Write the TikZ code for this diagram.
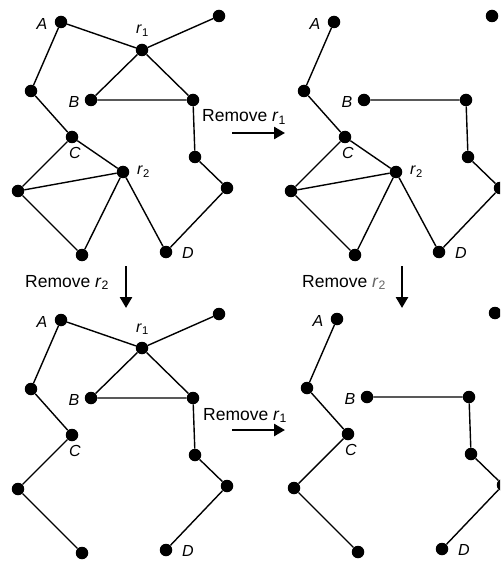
\documentclass[tikz,border=0pt]{standalone}
\usepackage{fontspec}
\setmainfont{Liberation Sans}
\usetikzlibrary{arrows.meta}
\tikzset{
 dot/.style={circle,fill=black,inner sep=0pt,minimum size=12.5pt},
 edge/.style={line width=1.4pt},
 lab/.style={font=\fontsize{16}{18}\selectfont\itshape, inner sep=0pt},
 rlab/.style={font=\fontsize{16}{18}\selectfont, inner sep=0pt, anchor=base west},
 captext/.style={font=\fontsize{17.5}{20}\selectfont, inner sep=0pt, anchor=base west},
 bigarrow/.style={line width=2.6pt, -{Triangle[length=11pt,width=12pt]}}
}
\newcommand{\basepanel}[3]{%
 \node[dot] (#1A) at (61+#2,22+#3) {};
 \node[dot] (#1TR) at (219+#2,16+#3) {};
 \node[dot] (#1L1) at (31+#2,91+#3) {};
 \node[dot] (#1B) at (91+#2,100+#3) {};
 \node[dot] (#1BR) at (193+#2,100+#3) {};
 \node[dot] (#1C) at (72+#2,137+#3) {};
 \node[dot] (#1R1) at (195+#2,157+#3) {};
 \node[dot] (#1R2) at (227+#2,188+#3) {};
 \node[dot] (#1LB) at (18+#2,191+#3) {};
 \node[dot] (#1BOT) at (82+#2,255+#3) {};
 \node[dot] (#1D) at (166+#2,252+#3) {};
 \node[lab] (#1lA) at (42+#2,24+#3) {A};
 \node[lab] (#1lB) at (74+#2,102+#3) {B};
 \node[lab] (#1lC) at (75+#2,153+#3) {C};
 \node[lab] (#1lD) at (188+#2,253+#3) {D};
 \draw[edge] (#1A) -- (#1L1) -- (#1C) -- (#1LB) -- (#1BOT);
 \draw[edge] (#1B) -- (#1BR) -- (#1R1) -- (#1R2) -- (#1D);
}
\newcommand{\ronepanel}[3]{%
 \node[dot] (#1r1) at (142+#2,50+#3) {};
 \node[rlab] (#1lr1) at (136+#2,34+#3) {\textit{r}\textsubscript{1}};
 \draw[edge] (#1A) -- (#1r1) -- (#1TR);
 \draw[edge] (#1B) -- (#1r1) -- (#1BR);
}
\newcommand{\rtwopanel}[3]{%
 \node[dot] (#1r2) at (123+#2,172+#3) {};
 \node[rlab] (#1lr2) at (137+#2,175+#3) {\textit{r}\textsubscript{2}};
 \draw[edge] (#1C) -- (#1r2) -- (#1LB);
 \draw[edge] (#1BOT) -- (#1r2) -- (#1D);
}
\begin{document}
\begin{tikzpicture}[x=1pt,y=-1pt]
\useasboundingbox (0,0) rectangle (500,561);
\clip (0,0) rectangle (500,561);
% top-left
\basepanel{p}{0}{0}
\ronepanel{p}{0}{0}
\rtwopanel{p}{0}{0}
% top-right
\basepanel{q}{273}{0}
\rtwopanel{q}{273}{0}
% bottom-left
\basepanel{s}{0}{298}
\ronepanel{s}{0}{298}
% bottom-right
\basepanel{t}{276}{297}
% captions and arrows
\node[captext] (c1) at (202,122) {Remove \textit{r}\textsubscript{1}};
\coordinate (a1s) at (232,133); \coordinate (a1e) at (285,133);
\draw[bigarrow] (a1s) -- (a1e);
\node[captext] (c2) at (25,287) {Remove \textit{r}\textsubscript{2}};
\coordinate (a2s) at (126,266); \coordinate (a2e) at (126,308);
\draw[bigarrow] (a2s) -- (a2e);
\node[captext] (c3) at (302,287) {Remove {\color{black!60}\textit{r}\textsubscript{2}}};
\coordinate (a3s) at (402,266); \coordinate (a3e) at (402,308);
\draw[bigarrow] (a3s) -- (a3e);
\node[captext] (c4) at (203,420) {Remove \textit{r}\textsubscript{1}};
\coordinate (a4s) at (232,430); \coordinate (a4e) at (285,430);
\draw[bigarrow] (a4s) -- (a4e);
\end{tikzpicture}
\end{document}
